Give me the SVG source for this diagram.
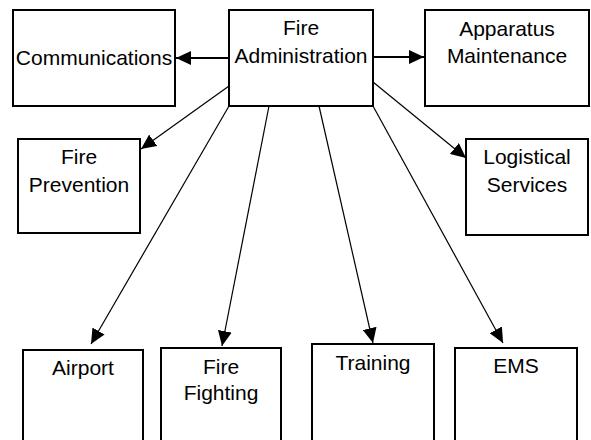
<svg xmlns="http://www.w3.org/2000/svg" width="591" height="440" viewBox="0 0 591 440">
<style>
.box{fill:#fff;stroke:#000;stroke-width:2}
.lbl{font-family:"Liberation Sans",Arial,sans-serif;font-size:21px;fill:#000;text-anchor:middle}
.c{stroke:#000;stroke-width:1.2;fill:none;marker-end:url(#ah)}
.c2{stroke:#000;stroke-width:2;fill:none;marker-end:url(#ah)}
</style>
<defs>
<marker id="ah" markerUnits="userSpaceOnUse" markerWidth="16" markerHeight="14" refX="15" refY="7" orient="auto" viewBox="0 0 16 14">
<path d="M0,0 L15,7 L0,14 z" fill="#000"/>
</marker>
</defs>
<rect width="591" height="440" fill="#fff"/>
<g id="connectors">
<line class="c2" x1="229" y1="58" x2="176" y2="58"/>
<line class="c2" x1="373" y1="57" x2="424" y2="57"/>
<line class="c" x1="229" y1="86" x2="141" y2="149"/>
<line class="c" x1="373" y1="82" x2="466" y2="158"/>
<line class="c" x1="229" y1="106" x2="91" y2="344"/>
<line class="c" x1="269" y1="106" x2="222" y2="346"/>
<line class="c" x1="319" y1="106" x2="373" y2="343"/>
<line class="c" x1="373" y1="106" x2="503" y2="343"/>
</g>
<g id="fire-administration">
<rect class="box" x="229" y="10" width="144" height="96"/>
<text class="lbl" x="301" y="35">Fire</text>
<text class="lbl" x="301" y="63">Administration</text>
</g>
<g id="communications">
<rect class="box" x="13" y="10" width="162" height="96"/>
<text class="lbl" x="94" y="65">Communications</text>
</g>
<g id="apparatus-maintenance">
<rect class="box" x="425" y="10" width="164" height="96"/>
<text class="lbl" x="507" y="36">Apparatus</text>
<text class="lbl" x="507" y="63">Maintenance</text>
</g>
<g id="fire-prevention">
<rect class="box" x="18" y="139" width="122" height="94"/>
<text class="lbl" x="79" y="164">Fire</text>
<text class="lbl" x="79" y="192">Prevention</text>
</g>
<g id="logistical-services">
<rect class="box" x="466" y="139" width="122" height="96"/>
<text class="lbl" x="527" y="164">Logistical</text>
<text class="lbl" x="527" y="192">Services</text>
</g>
<g id="airport">
<rect class="box" x="23" y="350" width="120" height="110"/>
<text class="lbl" x="83" y="375">Airport</text>
</g>
<g id="fire-fighting">
<rect class="box" x="161" y="348" width="120" height="110"/>
<text class="lbl" x="221" y="374">Fire</text>
<text class="lbl" x="221" y="400">Fighting</text>
</g>
<g id="training">
<rect class="box" x="312" y="344" width="122" height="110"/>
<text class="lbl" x="373" y="370">Training</text>
</g>
<g id="ems">
<rect class="box" x="455" y="348" width="122" height="110"/>
<text class="lbl" x="516" y="373">EMS</text>
</g>
</svg>
